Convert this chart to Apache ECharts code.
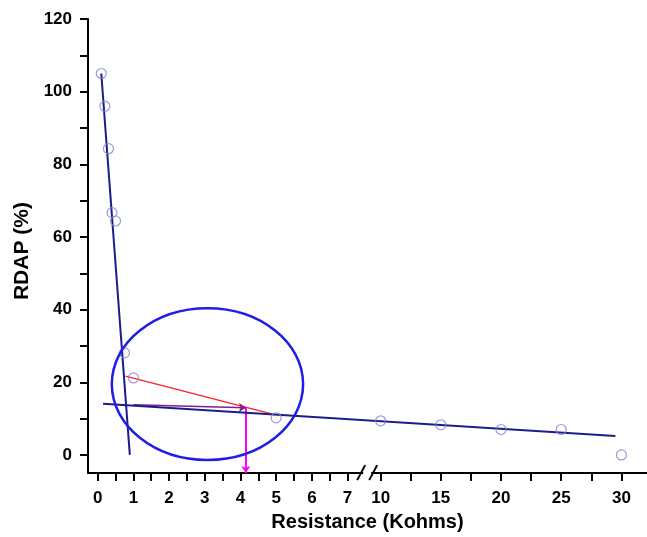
<!DOCTYPE html>
<html>
<head>
<meta charset="utf-8">
<script src="https://cdn.jsdelivr.net/npm/echarts@6/dist/echarts.min.js"></script>
<style>
	body { margin: 0; background: #fff; }
	#ec1 { width: 647px; height: 537px; }
</style>
</head>
<body>
<div id="ec1"></div>
<script>
// measured points (Kohms, %)
var resX = [0.1, 0.2, 0.3, 0.4, 0.5, 0.75, 1, 5, 10, 15, 20, 25, 30];
var rdapY = [105, 96, 84.3, 66.7, 64.4, 28.1, 21.2, 10.2, 9.4, 8.3, 7.0, 7.0, 0];

// fitted lines: [x1, y1, x2, y2]
var fitSteep = [0.1, 105, 0.9, 0];
var fitFlat = [0.15, 14.1, 29.5, 5.2];
// helper lines
var redLine = [0.78, 21.7, 4.87, 11.3];
var purpleArrow = [1.0, 13.8, 4.15, 13.0];
var magentaArrow = [4.15, 13.0, 4.15, -5];
// ellipse: center x, center y, radius x, radius y
var circle = [3.075, 19.5, 2.68, 20.9];

// tick labels
var xMajor = [0, 1, 2, 3, 4, 5, 6, 7, 10, 15, 20, 25, 30];
var xMinor = [0.5, 1.5, 2.5, 3.5, 4.5, 5.5, 6.5, 12.5, 17.5, 22.5, 27.5];
var yMajor = [0, 20, 40, 60, 80, 100, 120];
var yMinor = [10, 30, 50, 70, 90, 110];

// broken axis: 0..7.6 at full scale, 10..30 compressed
var U10 = 7.927, K = 0.3373;
function toU(x) {
	return x < 8 ? x : U10 + (x - 10) * K;
}
function fromU(u) {
	return u < 7.7 ? u : 10 + (u - U10) / K;
}

function seg(a) {
	return [[toU(a[0]), a[1]], [toU(a[2]), a[3]]];
}

function allTicks(a, b) {
	return a.concat(b).sort(function (p, q) { return p - q; });
}

var font = 'Liberation Sans';

function tuzhu() {
	var myCharts = echarts.init(document.getElementById('ec1'));

	var pts = [];
	for (var i = 0; i < resX.length; i++) {
		pts.push([toU(resX[i]), rdapY[i]]);
	}

	option = {
		animation: false,
		grid: { left: 88, right: 0, top: 19, bottom: 63 },
		xAxis: {
			type: 'value',
			min: -0.272,
			max: 15.39,
			splitLine: { show: false },
			name: 'Resistance (Kohms)',
			nameLocation: 'middle',
			nameGap: 36,
			nameTextStyle: { fontFamily: font, fontWeight: 'bold', fontSize: 20, color: '#000' },
			axisLine: { onZero: false, lineStyle: { color: '#000', width: 2 } },
			axisTick: { show: true, length: 8, lineStyle: { color: '#000', width: 2 },
				customValues: allTicks(xMajor, xMinor).map(toU) },
			axisLabel: {
				customValues: xMajor.map(toU),
				margin: 17,
				fontFamily: font, fontWeight: 'bold', fontSize: 17, color: '#000',
				formatter: function (v) { return Math.round(fromU(v)); }
			}
		},
		yAxis: {
			type: 'value',
			min: -5,
			max: 120,
			name: 'RDAP (%)',
			nameLocation: 'middle',
			nameGap: 52,
			nameTextStyle: { fontFamily: font, fontWeight: 'bold', fontSize: 21, color: '#000', padding: [0, 10, 0, 0] },
			splitLine: { show: false },
			axisLine: { show: true, onZero: false, lineStyle: { color: '#000', width: 2 } },
			axisTick: { show: true, length: 8, lineStyle: { color: '#000', width: 2 },
				customValues: allTicks(yMajor, yMinor) },
			axisLabel: {
				customValues: yMajor,
				margin: 16,
				fontFamily: font, fontWeight: 'bold', fontSize: 17, color: '#000'
			}
		},
		series: [
			{
				type: 'line',
				data: seg(fitSteep),
				showSymbol: false,
				lineStyle: { color: '#1c1c8a', width: 2 }
			},
			{
				type: 'line',
				data: seg(fitFlat),
				showSymbol: false,
				lineStyle: { color: '#1c1c8a', width: 2 }
			},
			{
				type: 'lines',
				coordinateSystem: 'cartesian2d',
				symbol: ['none', 'none'],
				lineStyle: { color: '#ff2020', width: 1.2, opacity: 1, curveness: 0 },
				data: [{ coords: seg(redLine) }]
			},
			{
				type: 'lines',
				coordinateSystem: 'cartesian2d',
				symbol: ['none', 'arrow'],
				symbolSize: 7,
				lineStyle: { color: '#80208c', width: 1.5, opacity: 1, curveness: 0 },
				data: [{ coords: seg(purpleArrow) }]
			},
			{
				type: 'lines',
				coordinateSystem: 'cartesian2d',
				symbol: ['none', 'arrow'],
				symbolSize: 7,
				lineStyle: { color: '#ff00ff', width: 2, opacity: 1, curveness: 0 },
				data: [{ coords: seg(magentaArrow) }]
			},
			{
				type: 'scatter',
				data: pts,
				symbol: 'circle',
				symbolSize: 10,
				itemStyle: { color: 'rgba(0,0,0,0)', borderColor: '#8282d2', borderWidth: 1.2 },
				z: 5
			}
		]
	};
	myCharts.setOption(option);

	// ellipse and axis-break mark
	var c = myCharts.convertToPixel({ gridIndex: 0 }, [toU(circle[0]), circle[1]]);
	var e = myCharts.convertToPixel({ gridIndex: 0 }, [toU(circle[0] + circle[2]), circle[1] + circle[3]]);
	var b = myCharts.convertToPixel({ gridIndex: 0 }, [7.55, -5]);
	myCharts.setOption({
		graphic: [
			{
				type: 'ellipse',
				shape: { cx: c[0], cy: c[1], rx: e[0] - c[0], ry: c[1] - e[1] },
				style: { fill: 'none', stroke: '#1e1ee6', lineWidth: 2.5 },
				z: 10
			},
			{
				type: 'rect',
				shape: { x: b[0] - 4, y: b[1] - 3, width: 8, height: 6 },
				style: { fill: '#fff' },
				z: 10
			},
			{
				type: 'line',
				shape: { x1: b[0] - 10, y1: b[1] + 7, x2: b[0] - 2, y2: b[1] - 8 },
				style: { stroke: '#000', lineWidth: 2 },
				z: 11
			},
			{
				type: 'line',
				shape: { x1: b[0] + 2, y1: b[1] + 7, x2: b[0] + 10, y2: b[1] - 8 },
				style: { stroke: '#000', lineWidth: 2 },
				z: 11
			}
		]
	});
}

tuzhu();
</script>
</body>
</html>
